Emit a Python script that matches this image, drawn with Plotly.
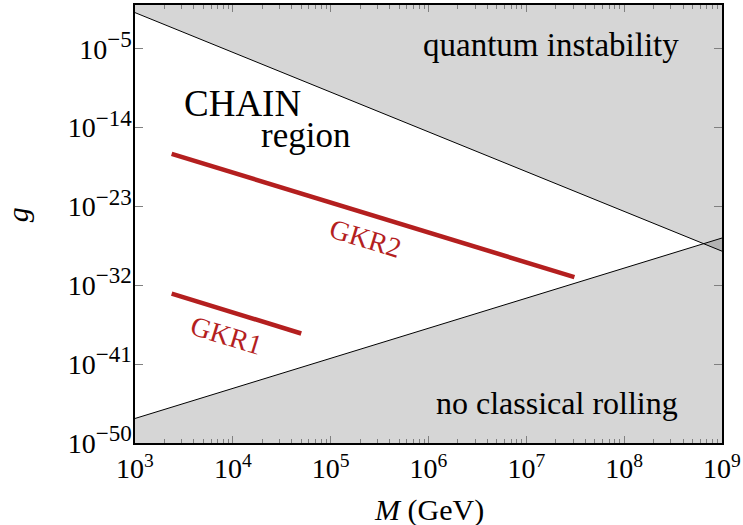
import numpy as np
import plotly.graph_objects as go

# Data
M_range = [1e3, 1e9]
g_range = [1e-50, 1e0]
upper_boundary_g = [10**-0.87, 10**-28.1]   # quantum instability boundary at M = 1e3, 1e9
lower_boundary_g = [10**-47.2, 10**-26.6]   # no classical rolling boundary at M = 1e3, 1e9

gkr2_M = [2.37e3, 3.1e7]
gkr2_g = [10**-17.0, 10**-31.06]
gkr1_M = [2.37e3, 5.0e4]
gkr1_g = [10**-32.95, 10**-37.5]

y_tickvals = [1e-50, 1e-41, 1e-32, 1e-23, 1e-14, 1e-5]
y_exponents = ["−50", "−41", "−32", "−23", "−14", "−5"]
x_tickvals = [1e3, 1e4, 1e5, 1e6, 1e7, 1e8, 1e9]
x_exponents = ["3", "4", "5", "6", "7", "8", "9"]

FONT = "Liberation Serif"
RED = "#b41f1f"
FILL = "rgba(0,0,0,0.16)"


def pow10(e, size=None):
    if size:
        return '10<sup><span style="font-size:%dpx">%s</span></sup>' % (size, e)
    return "10<sup>" + e + "</sup>"


fig = go.Figure()

fig.add_trace(go.Scatter(
    x=[M_range[0], M_range[1], M_range[1], M_range[0]],
    y=[upper_boundary_g[0], upper_boundary_g[1], g_range[1], g_range[1]],
    fill="toself", fillcolor=FILL, line=dict(width=0), mode="lines",
    hoverinfo="skip", showlegend=False))
fig.add_trace(go.Scatter(
    x=[M_range[0], M_range[1], M_range[1], M_range[0]],
    y=[lower_boundary_g[0], lower_boundary_g[1], g_range[0], g_range[0]],
    fill="toself", fillcolor=FILL, line=dict(width=0), mode="lines",
    hoverinfo="skip", showlegend=False))
fig.add_trace(go.Scatter(x=M_range, y=upper_boundary_g, mode="lines",
                         line=dict(color="black", width=1), showlegend=False))
fig.add_trace(go.Scatter(x=M_range, y=lower_boundary_g, mode="lines",
                         line=dict(color="black", width=1), showlegend=False))
fig.add_trace(go.Scatter(x=gkr2_M, y=gkr2_g, mode="lines",
                         line=dict(color=RED, width=4.5), showlegend=False))
fig.add_trace(go.Scatter(x=gkr1_M, y=gkr1_g, mode="lines",
                         line=dict(color=RED, width=4.5), showlegend=False))

minor_x = [m * 10**e for e in range(3, 9) for m in range(2, 10)]

fig.update_xaxes(
    type="log", range=[3, 9], tickvals=x_tickvals,
    ticktext=[pow10(e) for e in x_exponents],
    ticks="inside", ticklen=7, tickcolor="#808080", tickwidth=1,
    showline=True, linecolor="black", linewidth=1.5, mirror="allticks",
    showgrid=False, zeroline=False, automargin=False,
    minor=dict(tickvals=minor_x, ticks="inside", ticklen=4, tickcolor="#808080", showgrid=False),
    tickfont=dict(family=FONT, size=28, color="black"),
)
fig.update_yaxes(
    type="log", range=[-50, 0], tickvals=y_tickvals,
    ticktext=[pow10(e, 23) for e in y_exponents],
    ticks="inside", ticklen=8, tickcolor="#808080", tickwidth=1,
    showline=True, linecolor="black", linewidth=1.5, mirror="allticks",
    showgrid=False, zeroline=False, automargin=False,
    ticklabelstandoff=-4,
    tickfont=dict(family=FONT, size=28, color="black"),
)

ann_font = dict(family=FONT, size=33, color="black")
fig.add_annotation(x=7.25, y=-4.56, text="quantum instability", showarrow=False, font=ann_font)
fig.add_annotation(x=7.31, y=-45.4, text="no classical rolling", showarrow=False,
                   font=dict(family=FONT, size=32, color="black"))
fig.add_annotation(x=4.10, y=-11.2, text="CHAIN", showarrow=False,
                   font=dict(family=FONT, size=37, color="black"))
fig.add_annotation(x=4.74, y=-14.9, text="region", showarrow=False,
                   font=dict(family=FONT, size=35, color="black"))
fig.add_annotation(x=5.36, y=-26.65, text="GKR2", showarrow=False, textangle=17,
                   font=dict(family=FONT, size=28, color=RED))
fig.add_annotation(x=3.94, y=-37.7, text="GKR1", showarrow=False, textangle=17,
                   font=dict(family=FONT, size=28, color=RED))

# axis titles
fig.add_annotation(xref="paper", yref="paper", x=0.5, y=0, yshift=-67,
                   xanchor="center", yanchor="middle",
                   text="<i>M</i> (GeV)", showarrow=False,
                   font=dict(family=FONT, size=30, color="black"))
fig.add_annotation(xref="paper", yref="paper", x=0, xshift=-118, y=0.52,
                   xanchor="center", yanchor="middle",
                   text="<i>g</i>", showarrow=False, textangle=-90,
                   font=dict(family=FONT, size=30, color="black"))

fig.update_layout(
    width=743, height=525,
    margin=dict(l=135, r=21, t=5, b=82, autoexpand=False),
    plot_bgcolor="white", paper_bgcolor="white",
    showlegend=False,
)

fig.write_html("out.html", config={"displayModeBar": False},
               post_script="document.body.style.margin='0px';")
